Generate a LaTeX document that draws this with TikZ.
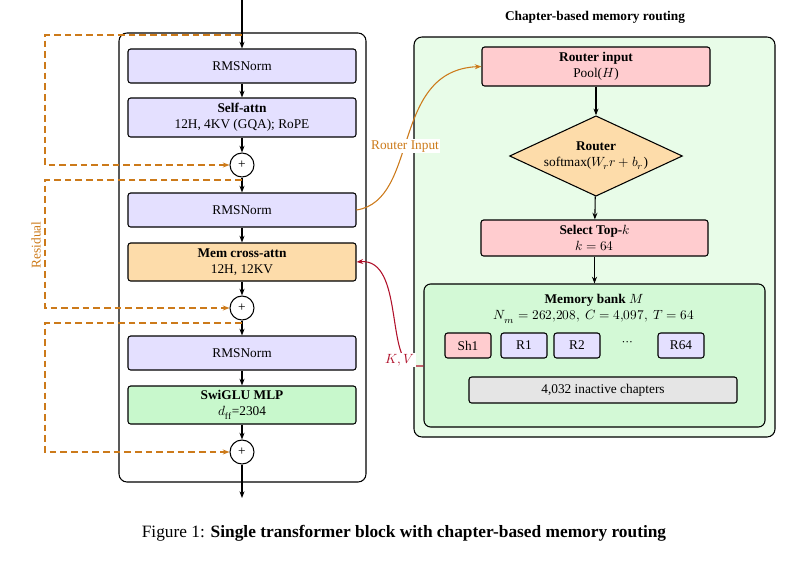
\documentclass[tikz,border=0pt]{standalone}
\usepackage{fontspec}
\setmainfont{Liberation Serif}
\usepackage{unicode-math}
\setmathfont{Latin Modern Math}
\usetikzlibrary{shapes.geometric,arrows.meta}
\definecolor{lav}{HTML}{E4E0FF}
\definecolor{org}{HTML}{FDDCAA}
\definecolor{grn}{HTML}{C8F8CC}
\definecolor{pnk}{HTML}{FFCCCF}
\definecolor{lgrn}{HTML}{E8FCE8}
\definecolor{res}{HTML}{CC7A1A}
\definecolor{kv}{HTML}{B0102A}
\begin{document}
\begin{tikzpicture}[x=0.75pt,y=-0.75pt,font=\fontsize{10}{12}\selectfont,
 blk/.style={draw,thick,rounded corners=2pt,minimum width=228*0.75pt,align=center,inner sep=2pt},
 plus/.style={draw,thick,circle,minimum size=18pt,inner sep=0pt},
 arr/.style={-{Stealth[length=5pt]},thick},
 resid/.style={dashed,thick,res,dash pattern=on 5pt off 3pt},
 chip/.style={draw,thick,rounded corners=2pt,minimum width=46*0.75pt,minimum height=25*0.75pt,inner sep=0pt}]
\useasboundingbox (0,0) rectangle (800,561);
% left column
\node[draw,thick,rounded corners=6pt,minimum width=247*0.75pt,minimum height=449*0.75pt] (outer) at (242.5,257.5) {};
\coordinate (in) at (242,0);
\coordinate (out) at (242,498);
\node[blk,fill=lav,minimum height=34*0.75pt] (n1) at (242,66) {RMSNorm};
\node[blk,fill=lav,minimum height=39*0.75pt] (sa) at (242,117.5) {\textbf{Self-attn}\\12H, 4KV (GQA); RoPE};
\node[plus] (p1) at (242,165) {+};
\node[blk,fill=lav,minimum height=34*0.75pt] (n2) at (242,210) {RMSNorm};
\node[blk,fill=org,minimum height=38*0.75pt] (mc) at (242,262) {\textbf{Mem cross-attn}\\12H, 12KV};
\node[plus] (p2) at (242,308) {+};
\node[blk,fill=lav,minimum height=34*0.75pt] (n3) at (242,353) {RMSNorm};
\node[blk,fill=grn,minimum height=38*0.75pt] (mlp) at (242,405) {\textbf{SwiGLU MLP}\\$d_{\mathrm{ff}}$=2304};
\node[plus] (p3) at (242,452) {+};
\draw[arr] (in) -- (n1);
\draw[arr] (n1) -- (sa);
\draw[arr] (sa) -- (p1);
\draw[arr] (p1) -- (n2);
\draw[arr] (n2) -- (mc);
\draw[arr] (mc) -- (p2);
\draw[arr] (p2) -- (n3);
\draw[arr] (n3) -- (mlp);
\draw[arr] (mlp) -- (p3);
\draw[arr] (p3) -- (out);
\coordinate (r1) at (242,35);
\coordinate (r2) at (242,180);
\coordinate (r3) at (242,323);
\draw[resid,-{Stealth[length=5pt]}] (r1) -- (45,35) -- (45,165) -- (p1.west);
\draw[resid,-{Stealth[length=5pt]}] (r2) -- (45,180) -- (45,308) -- (p2.west);
\draw[resid,-{Stealth[length=5pt]}] (r3) -- (45,323) -- (45,452) -- (p3.west);
\node[res,rotate=90] (rl) at (36,245) {Residual};
% right
\node[font=\fontsize{10}{12}\selectfont\bfseries] (title) at (595,17) {Chapter-based memory routing};
\node[draw,thick,fill=lgrn,rounded corners=6pt,minimum width=361*0.75pt,minimum height=400*0.75pt] (rbox) at (594.5,237) {};
\node[blk,fill=pnk,minimum width=228*0.75pt,minimum height=39*0.75pt] (ri) at (596,66.5) {\textbf{Router input}\\Pool($H$)};
\node[draw,thick,fill=org,diamond,aspect=2.15,inner sep=1pt,align=center] (router) at (596,156) {\textbf{Router}\\softmax($W_r r+b_r$)};
\node[blk,fill=pnk,minimum width=227*0.75pt,minimum height=36*0.75pt] (top) at (594.5,238) {\textbf{Select Top-$k$}\\$k=64$};
\node[draw,thick,fill=grn!80!white,rounded corners=5pt,minimum width=341*0.75pt,minimum height=143*0.75pt] (mem) at (594.5,355.5) {};
\node[align=center] (memt) at (594,309) {\textbf{Memory bank} $M$\\$N_m=262{,}208,\ C=4{,}097,\ T=64$};
\node[chip,fill=pnk] (sh1) at (468,345.5) {Sh1};
\node[chip,fill=lav] (c1) at (524,345.5) {R1};
\node[chip,fill=lav] (c2) at (577,345.5) {R2};
\node (dots) at (628,343) {$\cdots$};
\node[chip,fill=lav] (c64) at (681,345.5) {R64};
\node[draw,thick,fill=gray!20,rounded corners=2pt,minimum width=268*0.75pt,minimum height=26*0.75pt,inner sep=0pt] (ina) at (603,390) {4,032 inactive chapters};
\draw[arr] (ri) -- (router);
\draw[arr] (router) -- (top);
\draw[arr] (top) -- (mem);
\draw[res,thick,-{Stealth[length=5pt]}] (n2.east) .. controls (420,200) and (390,70) .. (ri.west) node[pos=0.45,fill=white,inner sep=1pt,font=\fontsize{10}{12}\selectfont] (rlab) {Router Input};
\draw[kv,thick,-{Stealth[length=5pt]}] (mem.west |- 0,366) -- (415,366) .. controls (385,366) and (405,258) .. (mc.east) ;
\node[kv,fill=white,inner sep=1pt] (kvl) at (400,360) {$K,V$};
% caption
\node[font=\fontsize{13}{15}\selectfont] (cap) at (404,533) {Figure 1: \textbf{Single transformer block with chapter-based memory routing}};
\end{tikzpicture}
\end{document}
